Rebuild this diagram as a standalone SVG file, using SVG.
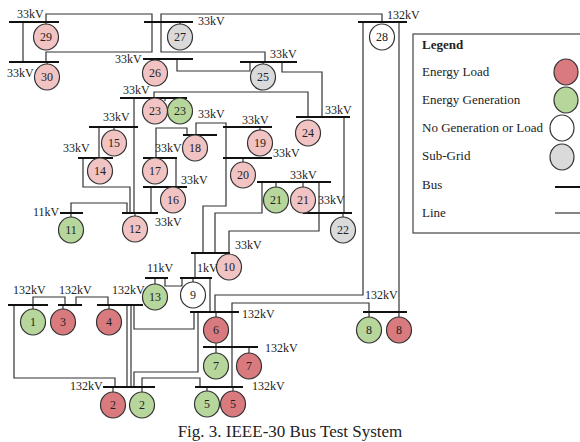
<svg xmlns="http://www.w3.org/2000/svg" width="580" height="442" viewBox="0 0 580 442">
<style>
.bg{fill:#fff}
.ln{fill:none;stroke:#333;stroke-width:1.2}
.bus{stroke:#111;stroke-width:2}
.n{stroke:#333;stroke-width:1.2}
.p{fill:#f2c3c3}
.r{fill:#d97a7f}
.g{fill:#b6d69c}
.w{fill:#fff}
.s{fill:#dadada}
text{font-family:"Liberation Serif","Times New Roman",serif;fill:#222}
.kv{font-size:12px}
.nl{font-size:12px;text-anchor:middle}
.lg{font-size:13px}
</style>
<rect class="bg" x="0" y="0" width="580" height="442"/>
<g id="connectors">
<polyline class="ln" points="23,22 23,62"/>
<polyline class="ln" points="46,22 46,14 152,14 152,52 46,52 46,62"/>
<polyline class="ln" points="382,22 382,14 161,14 161,52 265,52 265,62"/>
<polyline class="ln" points="177,59 177,71 250,71 250,62"/>
<polyline class="ln" points="282,62 282,72 322,72 322,117"/>
<polyline class="ln" points="154,98 154,92 308,92 308,117"/>
<polyline class="ln" points="344,117 344,213"/>
<polyline class="ln" points="134,98 134,213"/>
<polyline class="ln" points="99,127 99,158"/>
<polyline class="ln" points="83,158 83,187 130,187 130,213"/>
<polyline class="ln" points="71,213 71,203 127,203 127,213"/>
<polyline class="ln" points="156,158 156,128 187,128 187,135"/>
<polyline class="ln" points="196,135 196,123 226,123 226,206 203,206 203,253"/>
<polyline class="ln" points="176,158 176,187"/>
<polyline class="ln" points="151,187 151,213"/>
<polyline class="ln" points="262,182 262,213 215,213 215,253"/>
<polyline class="ln" points="319,182 319,231 229,231 229,253"/>
<polyline class="ln" points="195,253 195,278"/>
<polyline class="ln" points="165,278 165,286 182,286 182,278"/>
<polyline class="ln" points="210,278 210,312"/>
<polyline class="ln" points="363,22 363,295 215,295 215,312"/>
<polyline class="ln" points="399,22 399,312"/>
<polyline class="ln" points="369,312 369,303 232,303 232,387"/>
<polyline class="ln" points="134,305 134,329 194,329 194,312"/>
<polyline class="ln" points="216,312 216,347"/>
<polyline class="ln" points="198,312 198,372 134,372 134,387"/>
<polyline class="ln" points="142,387 142,378 200,378 200,387"/>
<polyline class="ln" points="127,305 127,387"/>
<polyline class="ln" points="131,305 131,387"/>
<polyline class="ln" points="33,305 33,297 65,297 65,305"/>
<polyline class="ln" points="76,305 76,297 108,297 108,305"/>
<polyline class="ln" points="14,305 14,378 115,378 115,387"/>
<polyline class="ln" points="46,22 46,26"/>
<polyline class="ln" points="47,62 47,66"/>
<polyline class="ln" points="180,22 180,26"/>
<polyline class="ln" points="155,59 155,62"/>
<polyline class="ln" points="263,62 263,66"/>
<polyline class="ln" points="165,98 165,101"/>
<polyline class="ln" points="180,98 180,101"/>
<polyline class="ln" points="114,127 114,132"/>
<polyline class="ln" points="100,158 100,160"/>
<polyline class="ln" points="260,127 260,132"/>
<polyline class="ln" points="243,158 243,164"/>
<polyline class="ln" points="276,182 276,189"/>
<polyline class="ln" points="303,182 303,189"/>
<polyline class="ln" points="343,213 343,219"/>
<polyline class="ln" points="135,213 135,218"/>
<polyline class="ln" points="71,213 71,219"/>
<polyline class="ln" points="173,187 173,189"/>
<polyline class="ln" points="155,278 155,286"/>
<polyline class="ln" points="193,278 193,284"/>
<polyline class="ln" points="33,305 33,311"/>
<polyline class="ln" points="63,305 63,311"/>
<polyline class="ln" points="109,305 109,311"/>
<polyline class="ln" points="216,347 216,355"/>
<polyline class="ln" points="249,347 249,355"/>
<polyline class="ln" points="369,312 369,319"/>
<polyline class="ln" points="399,312 399,319"/>
<polyline class="ln" points="113,387 113,394"/>
<polyline class="ln" points="142,387 142,394"/>
<polyline class="ln" points="207,387 207,393"/>
<polyline class="ln" points="233,387 233,393"/>
</g>
<g id="buses">
<line class="bus" x1="9" y1="22" x2="59" y2="22"/>
<line class="bus" x1="9" y1="62" x2="59" y2="62"/>
<line class="bus" x1="144" y1="22" x2="193" y2="22"/>
<line class="bus" x1="143" y1="59" x2="193" y2="59"/>
<line class="bus" x1="240" y1="62" x2="297" y2="62"/>
<line class="bus" x1="358" y1="22" x2="407" y2="22"/>
<line class="bus" x1="120" y1="98" x2="187" y2="98"/>
<line class="bus" x1="296" y1="117" x2="350" y2="117"/>
<line class="bus" x1="89" y1="127" x2="138" y2="127"/>
<line class="bus" x1="78" y1="158" x2="113" y2="158"/>
<line class="bus" x1="183" y1="135" x2="217" y2="135"/>
<line class="bus" x1="223" y1="127" x2="272" y2="127"/>
<line class="bus" x1="143" y1="158" x2="177" y2="158"/>
<line class="bus" x1="143" y1="187" x2="187" y2="187"/>
<line class="bus" x1="223" y1="158" x2="272" y2="158"/>
<line class="bus" x1="257" y1="182" x2="331" y2="182"/>
<line class="bus" x1="303" y1="213" x2="352" y2="213"/>
<line class="bus" x1="122" y1="213" x2="158" y2="213"/>
<line class="bus" x1="60" y1="213" x2="83" y2="213"/>
<line class="bus" x1="191" y1="253" x2="230" y2="253"/>
<line class="bus" x1="180" y1="278" x2="212" y2="278"/>
<line class="bus" x1="145" y1="278" x2="168" y2="278"/>
<line class="bus" x1="8" y1="305" x2="48" y2="305"/>
<line class="bus" x1="58" y1="305" x2="82" y2="305"/>
<line class="bus" x1="97" y1="305" x2="143" y2="305"/>
<line class="bus" x1="190" y1="312" x2="239" y2="312"/>
<line class="bus" x1="363" y1="312" x2="407" y2="312"/>
<line class="bus" x1="203" y1="347" x2="258" y2="347"/>
<line class="bus" x1="103" y1="387" x2="155" y2="387"/>
<line class="bus" x1="195" y1="387" x2="243" y2="387"/>
</g>
<g id="n29"><ellipse class="n p" cx="46" cy="37" rx="12.5" ry="13"/><text class="nl" x="46" y="41">29</text></g>
<g id="n30"><ellipse class="n p" cx="47" cy="77" rx="12.5" ry="13"/><text class="nl" x="47" y="81">30</text></g>
<g id="n27"><ellipse class="n s" cx="180" cy="37" rx="12.5" ry="13"/><text class="nl" x="180" y="41">27</text></g>
<g id="n26"><ellipse class="n p" cx="155" cy="73" rx="12.5" ry="13"/><text class="nl" x="155" y="77">26</text></g>
<g id="n25"><ellipse class="n s" cx="263" cy="77" rx="12.5" ry="13"/><text class="nl" x="263" y="81">25</text></g>
<g id="n28"><ellipse class="n w" cx="382" cy="37" rx="12.5" ry="13"/><text class="nl" x="382" y="41">28</text></g>
<g id="n23a"><ellipse class="n p" cx="155" cy="111" rx="12.5" ry="13"/><text class="nl" x="155" y="115">23</text></g>
<g id="n23b"><ellipse class="n g" cx="180" cy="111" rx="12.5" ry="13"/><text class="nl" x="180" y="115">23</text></g>
<g id="n24"><ellipse class="n p" cx="308" cy="133" rx="12.5" ry="13"/><text class="nl" x="308" y="137">24</text></g>
<g id="n15"><ellipse class="n p" cx="114" cy="143" rx="12.5" ry="13"/><text class="nl" x="114" y="147">15</text></g>
<g id="n14"><ellipse class="n p" cx="100" cy="171" rx="12.5" ry="13"/><text class="nl" x="100" y="175">14</text></g>
<g id="n18"><ellipse class="n p" cx="195" cy="148" rx="12.5" ry="13"/><text class="nl" x="195" y="152">18</text></g>
<g id="n19"><ellipse class="n p" cx="260" cy="143" rx="12.5" ry="13"/><text class="nl" x="260" y="147">19</text></g>
<g id="n17"><ellipse class="n p" cx="155" cy="171" rx="12.5" ry="13"/><text class="nl" x="155" y="175">17</text></g>
<g id="n16"><ellipse class="n p" cx="173" cy="200" rx="12.5" ry="13"/><text class="nl" x="173" y="204">16</text></g>
<g id="n20"><ellipse class="n p" cx="243" cy="175" rx="12.5" ry="13"/><text class="nl" x="243" y="179">20</text></g>
<g id="n21a"><ellipse class="n g" cx="276" cy="200" rx="12.5" ry="13"/><text class="nl" x="276" y="204">21</text></g>
<g id="n21b"><ellipse class="n p" cx="303" cy="200" rx="12.5" ry="13"/><text class="nl" x="303" y="204">21</text></g>
<g id="n22"><ellipse class="n s" cx="343" cy="230" rx="12.5" ry="13"/><text class="nl" x="343" y="234">22</text></g>
<g id="n12"><ellipse class="n p" cx="135" cy="229" rx="12.5" ry="13"/><text class="nl" x="135" y="233">12</text></g>
<g id="n11"><ellipse class="n g" cx="71" cy="230" rx="12.5" ry="13"/><text class="nl" x="71" y="234">11</text></g>
<g id="n10"><ellipse class="n p" cx="229" cy="267" rx="12.5" ry="13"/><text class="nl" x="229" y="271">10</text></g>
<g id="n9"><ellipse class="n w" cx="193" cy="295" rx="12.5" ry="13"/><text class="nl" x="193" y="299">9</text></g>
<g id="n13"><ellipse class="n g" cx="155" cy="297" rx="12.5" ry="13"/><text class="nl" x="155" y="301">13</text></g>
<g id="n1"><ellipse class="n g" cx="33" cy="322" rx="12.5" ry="13"/><text class="nl" x="33" y="326">1</text></g>
<g id="n3"><ellipse class="n r" cx="63" cy="322" rx="12.5" ry="13"/><text class="nl" x="63" y="326">3</text></g>
<g id="n4"><ellipse class="n r" cx="109" cy="322" rx="12.5" ry="13"/><text class="nl" x="109" y="326">4</text></g>
<g id="n6"><ellipse class="n r" cx="216" cy="330" rx="12.5" ry="13"/><text class="nl" x="216" y="334">6</text></g>
<g id="n8a"><ellipse class="n g" cx="369" cy="330" rx="12.5" ry="13"/><text class="nl" x="369" y="334">8</text></g>
<g id="n8b"><ellipse class="n r" cx="399" cy="330" rx="12.5" ry="13"/><text class="nl" x="399" y="334">8</text></g>
<g id="n7a"><ellipse class="n g" cx="216" cy="366" rx="12.5" ry="13"/><text class="nl" x="216" y="370">7</text></g>
<g id="n7b"><ellipse class="n r" cx="249" cy="366" rx="12.5" ry="13"/><text class="nl" x="249" y="370">7</text></g>
<g id="n2a"><ellipse class="n r" cx="113" cy="405" rx="12.5" ry="13"/><text class="nl" x="113" y="409">2</text></g>
<g id="n2b"><ellipse class="n g" cx="142" cy="405" rx="12.5" ry="13"/><text class="nl" x="142" y="409">2</text></g>
<g id="n5a"><ellipse class="n g" cx="207" cy="404" rx="12.5" ry="13"/><text class="nl" x="207" y="408">5</text></g>
<g id="n5b"><ellipse class="n r" cx="233" cy="404" rx="12.5" ry="13"/><text class="nl" x="233" y="408">5</text></g>
<g id="labels">
<text class="kv" x="17" y="18">33kV</text>
<text class="kv" x="7" y="77">33kV</text>
<text class="kv" x="198" y="25">33kV</text>
<text class="kv" x="115" y="63">33kV</text>
<text class="kv" x="270" y="58">33kV</text>
<text class="kv" x="387" y="19">132kV</text>
<text class="kv" x="123" y="94">33kV</text>
<text class="kv" x="325" y="114">33kV</text>
<text class="kv" x="103" y="121">33kV</text>
<text class="kv" x="63" y="152">33kV</text>
<text class="kv" x="198" y="118">33kV</text>
<text class="kv" x="242" y="124">33kV</text>
<text class="kv" x="155" y="152">33kV</text>
<text class="kv" x="273" y="157">33kV</text>
<text class="kv" x="181" y="184">33kV</text>
<text class="kv" x="290" y="179">33kV</text>
<text class="kv" x="318" y="204">33kV</text>
<text class="kv" x="155" y="226">33kV</text>
<text class="kv" x="33" y="216">11kV</text>
<text class="kv" x="235" y="249">33kV</text>
<text class="kv" x="197" y="272">1kV</text>
<text class="kv" x="147" y="272">11kV</text>
<text class="kv" x="13" y="294">132kV</text>
<text class="kv" x="59" y="294">132kV</text>
<text class="kv" x="112" y="294">132kV</text>
<text class="kv" x="242" y="318">132kV</text>
<text class="kv" x="365" y="299">132kV</text>
<text class="kv" x="265" y="352">132kV</text>
<text class="kv" x="252" y="390">132kV</text>
<text class="kv" x="70" y="390">132kV</text>
</g>
<g id="legend">
<rect x="413" y="34" width="180" height="199" fill="#fff" stroke="#444" stroke-width="1.2"/>
<text class="lg" x="422" y="49" font-weight="bold">Legend</text>
<text class="lg" x="422" y="76">Energy Load</text>
<text class="lg" x="422" y="104">Energy Generation</text>
<text class="lg" x="422" y="132">No Generation or Load</text>
<text class="lg" x="422" y="160">Sub-Grid</text>
<text class="lg" x="422" y="189">Bus</text>
<text class="lg" x="422" y="217">Line</text>
<ellipse class="n r" cx="566" cy="72" rx="12" ry="13"/>
<ellipse class="n g" cx="566" cy="100" rx="12" ry="13"/>
<ellipse class="n w" cx="562" cy="128" rx="12" ry="13"/>
<ellipse class="n s" cx="562" cy="157" rx="12" ry="13"/>
<line class="bus" x1="555" y1="187" x2="580" y2="187" stroke-width="1.5"/>
<line class="ln" x1="555" y1="213" x2="580" y2="213"/>
</g>
<text x="290" y="437" font-size="17" text-anchor="middle">Fig. 3. IEEE-30 Bus Test System</text>
</svg>
